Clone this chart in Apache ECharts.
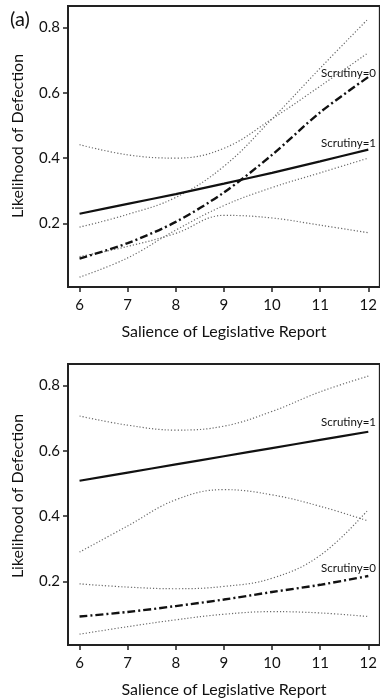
<!DOCTYPE html>
<html>
<head>
<meta charset="utf-8">
<script src="https://cdn.jsdelivr.net/npm/echarts@6/dist/echarts.min.js"></script>
<style>
html,body{margin:0;padding:0;background:#fff;}
#c{width:380px;height:700px;}
</style>
</head>
<body>
<div id="c"></div>
<script>
// ---- data ----
const salience = [6, 7, 8, 9, 10, 11, 12];
const xTicks = [6, 7, 8, 9, 10, 11, 12];
const yTicks = [0.2, 0.4, 0.6, 0.8];

// Panel (a)
const a_s1 = [0.23, 0.26, 0.29, 0.322, 0.355, 0.39, 0.426];
const a_s1Upper = [0.441, 0.41, 0.40, 0.43, 0.52, 0.62, 0.722];
const a_s1Lower = [0.099, 0.13, 0.17, 0.225, 0.217, 0.195, 0.172];
const a_s0 = [0.093, 0.14, 0.205, 0.295, 0.41, 0.54, 0.648];
const a_s0Upper = [0.189, 0.228, 0.28, 0.375, 0.52, 0.675, 0.826];
const a_s0Lower = [0.036, 0.095, 0.18, 0.255, 0.31, 0.355, 0.40];

// Panel (b)
const b_s1 = [0.508, 0.533, 0.558, 0.583, 0.608, 0.633, 0.658];
const b_s1Upper = [0.706, 0.678, 0.663, 0.675, 0.72, 0.78, 0.828];
const b_s1Lower = [0.29, 0.37, 0.45, 0.481, 0.465, 0.43, 0.385];
const b_s0 = [0.093, 0.107, 0.125, 0.145, 0.168, 0.19, 0.217];
const b_s0Upper = [0.193, 0.183, 0.178, 0.185, 0.21, 0.28, 0.42];
const b_s0Lower = [0.039, 0.062, 0.083, 0.1, 0.108, 0.104, 0.093];

const xName = 'Salience of Legislative Report';
const yName = 'Likelihood of Defection';

// ---- chart ----
const FONT = 'Lato';
const AX = '#222';
const pairs = v => salience.map((x, i) => [x, v[i]]);

function xAxis(gi) {
  return {
    type: 'value', gridIndex: gi, min: 5.76, max: 12.24,
    name: xName, nameLocation: 'middle', nameGap: 37,
    nameTextStyle: {fontFamily: FONT, fontSize: 16, color: '#111'},
    axisLine: {show: true, lineStyle: {color: AX, width: 2}},
    axisTick: {show: true, length: 5, inside: false, customValues: xTicks, lineStyle: {color: AX, width: 1.5}},
    axisLabel: {customValues: xTicks, margin: 11, fontFamily: FONT, fontSize: 15, color: '#111'},
    splitLine: {show: false}
  };
}
function yAxis(gi) {
  return {
    type: 'value', gridIndex: gi, min: 0.006, max: 0.865,
    axisLine: {show: true, lineStyle: {color: AX, width: 2}},
    axisTick: {show: true, length: 5, customValues: yTicks, lineStyle: {color: AX, width: 1.5}},
    axisLabel: {customValues: yTicks, margin: 8, fontFamily: FONT, fontSize: 15, color: '#111',
      formatter: v => v.toFixed(1)},
    splitLine: {show: false}
  };
}
function est(gi, data, solid) {
  return {
    type: 'line', xAxisIndex: gi, yAxisIndex: gi, data: pairs(data),
    symbol: 'none', smooth: 0.3, silent: true, z: 5,
    lineStyle: solid ? {color: '#111', width: 2.2, type: 'solid'}
                     : {color: '#111', width: 2.4, type: [8, 3, 2, 3]}
  };
}
function ci(gi, data) {
  return {
    type: 'line', xAxisIndex: gi, yAxisIndex: gi, data: pairs(data),
    symbol: 'none', smooth: 0.4, silent: true, z: 3,
    lineStyle: {color: '#6a6a6a', width: 1.2, type: [1.2, 2]}
  };
}

const chart = echarts.init(document.getElementById('c'), null, {renderer: 'canvas'});
chart.setOption({
  animation: false,
  backgroundColor: '#fff',
  grid: [
    {left: 68, top: 6, width: 316, height: 281, show: true, borderColor: AX, borderWidth: 2, backgroundColor: 'transparent'},
    {left: 68, top: 364, width: 316, height: 281, show: true, borderColor: AX, borderWidth: 2, backgroundColor: 'transparent'}
  ],
  xAxis: [xAxis(0), xAxis(1)],
  yAxis: [yAxis(0), yAxis(1)],
  series: [
    ci(0, a_s1Upper), ci(0, a_s1Lower), ci(0, a_s0Upper), ci(0, a_s0Lower),
    est(0, a_s1, true), est(0, a_s0, false),
    ci(1, b_s1Upper), ci(1, b_s1Lower), ci(1, b_s0Upper), ci(1, b_s0Lower),
    est(1, b_s1, true), est(1, b_s0, false)
  ],
  graphic: [
    {type: 'text', x: 20, y: 20, style: {text: '(a)', font: '20px ' + FONT, fill: '#111', align: 'center', verticalAlign: 'middle'}},
    {type: 'text', x: 18, y: 136, rotation: Math.PI / 2,
      style: {text: yName, font: '16px ' + FONT, fill: '#111', align: 'center', verticalAlign: 'middle'}},
    {type: 'text', x: 18, y: 496, rotation: Math.PI / 2,
      style: {text: yName, font: '16px ' + FONT, fill: '#111', align: 'center', verticalAlign: 'middle'}},
    {type: 'text', x: 376, y: 73, style: {text: 'Scrutiny=0', font: '11.5px ' + FONT, fill: '#111', align: 'right', verticalAlign: 'middle'}},
    {type: 'text', x: 376, y: 143, style: {text: 'Scrutiny=1', font: '11.5px ' + FONT, fill: '#111', align: 'right', verticalAlign: 'middle'}},
    {type: 'text', x: 376, y: 422, style: {text: 'Scrutiny=1', font: '11.5px ' + FONT, fill: '#111', align: 'right', verticalAlign: 'middle'}},
    {type: 'text', x: 376, y: 568, style: {text: 'Scrutiny=0', font: '11.5px ' + FONT, fill: '#111', align: 'right', verticalAlign: 'middle'}}
  ]
});
</script>
</body>
</html>
